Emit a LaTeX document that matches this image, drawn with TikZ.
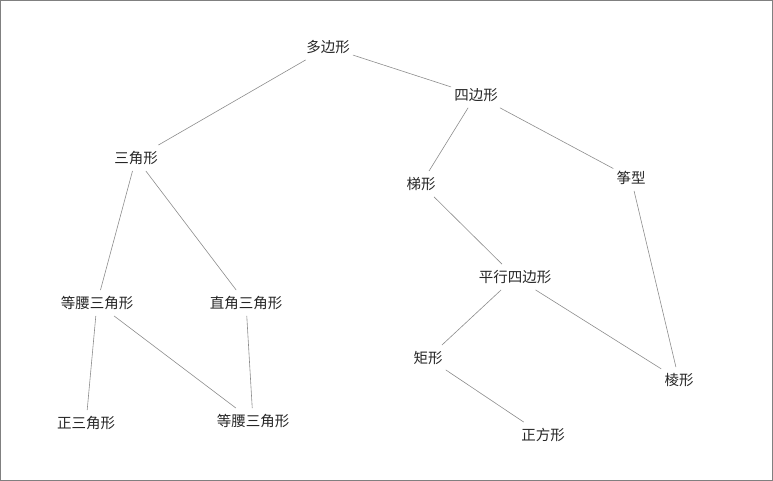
\documentclass[tikz,border=0pt]{standalone}
\usepackage{fontspec}
\setmainfont{Noto Sans CJK SC}
\begin{document}
\begin{tikzpicture}[x=1pt,y=-1pt,
  n/.style={inner xsep=3pt,inner ysep=6pt,font=\fontsize{14.5}{16}\selectfont,text=black!85},
  e/.style={draw=black!45,line width=0.6pt}]
\draw[draw=black!50,line width=0.8pt] (0.5,0.5) rectangle (772.5,480.5);
\useasboundingbox (0,0) rectangle (773,481);
\node[n] (a) at (328,47) {多边形};
\node[n] (b) at (476,95) {四边形};
\node[n] (c) at (136,158) {三角形};
\node[n] (d) at (421,184) {梯形};
\node[n] (f) at (631,178) {筝型};
\node[n] (g) at (97,303) {等腰三角形};
\node[n] (h) at (246,303) {直角三角形};
\node[n] (i) at (515,277) {平行四边形};
\node[n] (j) at (428,358) {矩形};
\node[n] (k) at (679,380) {棱形};
\node[n] (l) at (86,423) {正三角形};
\node[n] (m) at (253,421) {等腰三角形};
\node[n] (o) at (543,435) {正方形};
\draw[e] (a) -- (b);
\draw[e] (a) -- (c);
\draw[e] (b) -- (d);
\draw[e] (b) -- (f);
\draw[e] (c) -- (g);
\draw[e] (c) -- (h);
\draw[e] (d) -- (i);
\draw[e] (f) -- (k);
\draw[e] (g) -- (l);
\draw[e] (g) -- (m);
\draw[e] (h) -- (m);
\draw[e] (i) -- (j);
\draw[e] (i) -- (k);
\draw[e] (j) -- (o);
\end{tikzpicture}
\end{document}
